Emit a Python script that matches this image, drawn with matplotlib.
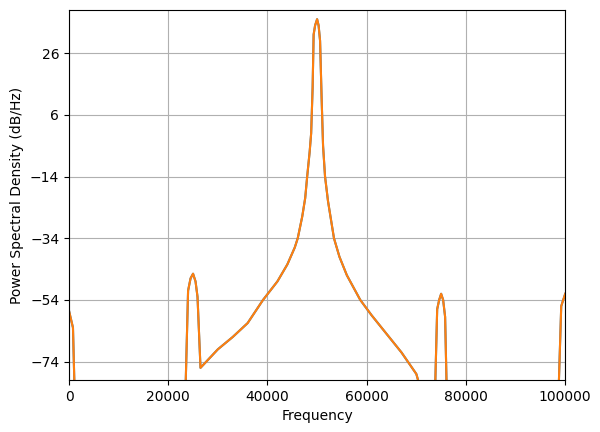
import matplotlib
matplotlib.use("Agg")
import matplotlib.pyplot as plt

freq = [0, 800, 1100, 23500, 24000, 24500, 25000, 25500, 25900, 26500,
        30000, 33000, 36000, 39100, 42000, 44000, 45500, 46100, 47000, 47600, 48000,
        48500, 48800, 49100, 49300, 49600, 50000, 50300, 50600, 50900, 51200, 51600,
        52200, 52800, 53400, 54500, 56000, 58700, 61000, 64000, 67000, 70000, 70700,
        73800, 74200, 74600, 75000, 75400, 75800, 76100, 98700, 99200, 100000]
psd = [-57.5, -63, -82, -82, -51, -47, -45.5, -48, -53, -76,
       -70, -66, -61.5, -54, -48, -42.5, -37, -34, -27, -21, -14,
       -6, 0, 15, 32, 35, 37, 35, 30, 12, -4, -14,
       -22, -28, -34, -40, -46, -54, -59, -65, -71, -78, -82,
       -82, -57, -54, -52, -54, -59.5, -82, -82, -56, -52]

fig, ax = plt.subplots(figsize=(6, 4.32), dpi=100)
ax.plot(freq, psd, color="#1f77b4")
ax.plot(freq, psd, color="#ff7f0e")
ax.set_xlim(0, 100000)
ax.set_ylim(-80, 40)
ax.set_yticks([-74, -54, -34, -14, 6, 26])
ax.set_xticks([0, 20000, 40000, 60000, 80000, 100000])
ax.grid(True)
ax.set_xlabel("Frequency")
ax.set_ylabel("Power Spectral Density (dB/Hz)")
fig.subplots_adjust(left=0.115, right=0.942, bottom=0.12, top=0.977)
fig.savefig("out.png")
